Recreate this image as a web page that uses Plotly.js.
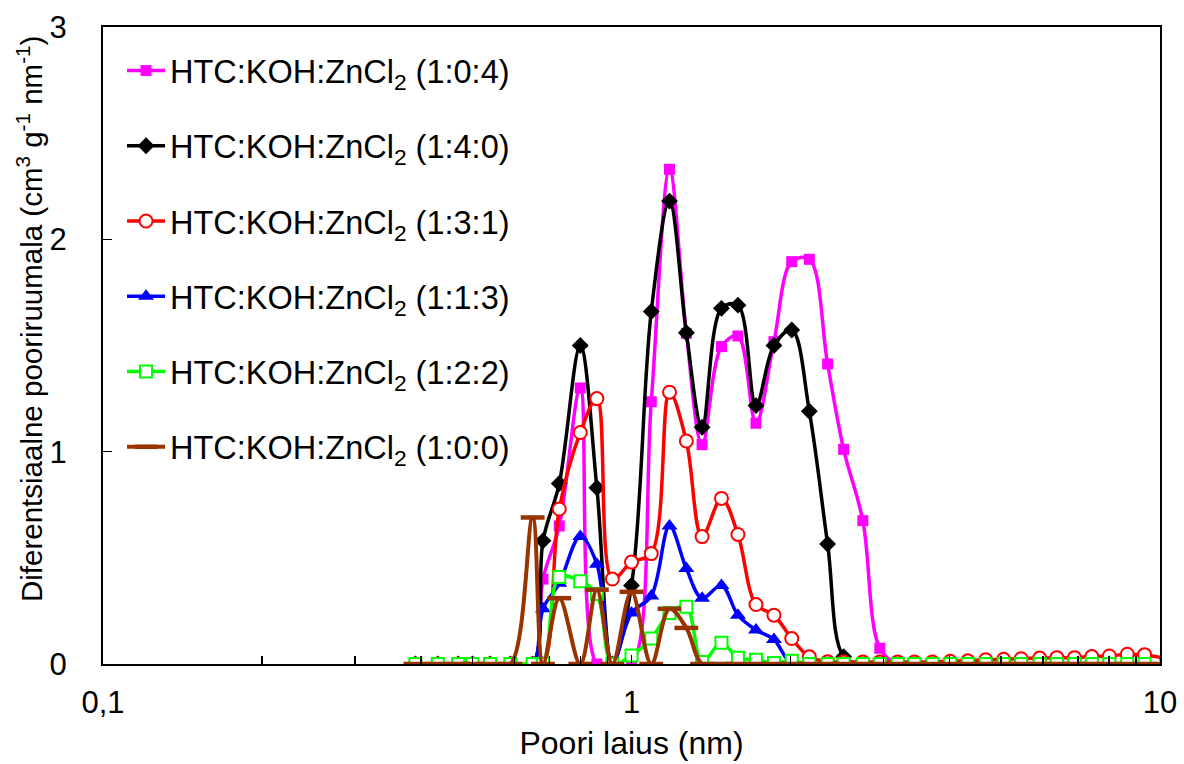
<!DOCTYPE html>
<html>
<head>
<meta charset="utf-8">
<script src="https://cdn.plot.ly/plotly-3.0.1.min.js"></script>
<style>html,body{margin:0;padding:0;background:#fff;}#chart{width:1184px;height:764px;}</style>
</head>
<body>
<div id="chart"></div>
<script>
// Pore width grid (nm)
const poreWidth = [0.39,0.43,0.47,0.50,0.54,0.59,0.65,0.68,0.73,0.80,0.86,0.92,1.00,1.09,1.18,1.27,1.36,1.48,1.59,1.72,1.86,2.01,2.17,2.35,2.52,2.74,2.95,3.19,3.43,3.71,4.01,4.33,4.68,5.06,5.46,5.92,6.38,6.89,7.43,8.02,8.67,9.35,10.3];

const seriesNames = [
  "HTC:KOH:ZnCl<sub>2</sub> (1:0:4)",
  "HTC:KOH:ZnCl<sub>2</sub> (1:4:0)",
  "HTC:KOH:ZnCl<sub>2</sub> (1:3:1)",
  "HTC:KOH:ZnCl<sub>2</sub> (1:1:3)",
  "HTC:KOH:ZnCl<sub>2</sub> (1:2:2)",
  "HTC:KOH:ZnCl<sub>2</sub> (1:0:0)"
];

const s104 = [0,0,0,0,0,0,0,0.40,0.65,1.30,0,0,0,1.235,2.33,1.557,1.033,1.495,1.545,1.134,1.518,1.895,1.906,1.413,1.011,0.675,0.074,0,0,0,0,0,0,0,0,0,0,0,0,0,0,0];
const s140 = [0,0,0,0,0,0,0,0.58,0.85,1.50,0.83,0,0.37,1.66,2.18,1.56,1.115,1.675,1.69,1.217,1.50,1.573,1.19,0.565,0.034,0,0,0,0,0,0,0,0,0,0,0,0,0,0,0,0,0];
const s131 = [0,0,0,0,0,0,0,0,0.73,1.09,1.25,0.40,0.48,0.52,1.28,1.05,0.60,0.78,0.61,0.28,0.23,0.12,0.034,0.011,0.01,0.01,0.01,0.01,0.01,0.01,0.013,0.015,0.02,0.022,0.025,0.028,0.03,0.03,0.035,0.038,0.046,0.044,0.025];
const s113 = [0,0,0,0,0,0,0,0.26,0.38,0.60,0.47,0,0.24,0.32,0.65,0.45,0.31,0.37,0.23,0.16,0.115,0,0,0,0,0,0,0,0,0,0,0,0,0,0,0,0,0,0,0,0,0];
const s122 = [0,0,0,0,0,0,0,0,0.41,0.39,0.33,0,0.04,0.12,0.24,0.27,0.01,0.10,0.03,0.02,0.005,0.015,0,0,0,0,0,0,0,0,0,0,0,0,0,0,0,0,0,0,0,0];
const s100 = [0,0,0,0,0,0,0.69,0,0.31,0,0.35,0,0.34,0,0.26,0.17,0,0,0,0,0,0,0,0,0,0,0,0,0,0,0,0,0,0,0,0,0,0,0,0,0,0,0];

const xTickVals = [0.1, 1, 10];
const xTickText = ["0,1", "1", "10"];
const xMinorVals = [0.2,0.3,0.4,0.5,0.6,0.7,0.8,0.9,2,3,4,5,6,7,8,9];
const yTickVals = [0, 1, 2, 3];
const xTitle = 'Poori laius (nm)';
const yTitle = 'Diferentsiaalne pooriruumala (cm<sup>3</sup> g<sup>-1</sup> nm<sup>-1</sup>)';

function tr(y, name, i, color, marker, lw) {
  return {
    x: poreWidth.slice(0, y.length), y: y, name: name,
    type: 'scatter', mode: 'lines+markers',
    line: {color: color, width: lw || 3.5, shape: 'spline', smoothing: 1},
    marker: marker, legendgroup: 'g' + i
  };
}

const data = [
  tr(s104, seriesNames[0], 0, '#FF00FF', {symbol: 'square', size: 11, color: '#FF00FF'}),
  tr(s140, seriesNames[1], 1, '#000000', {symbol: 'diamond', size: 13, color: '#000000'}),
  tr(s131, seriesNames[2], 2, '#FF0000', {symbol: 'circle', size: 13, color: '#FFFFFF', line: {color: '#FF0000', width: 2}}),
  tr(s113, seriesNames[3], 3, '#0000FF', {symbol: 'triangle-up', size: 14, color: '#0000FF'}),
  tr(s122, seriesNames[4], 4, '#00FF00', {symbol: 'square', size: 12, color: '#FFFFFF', line: {color: '#00FF00', width: 2}}),
  tr(s100, seriesNames[5], 5, '#993300', {symbol: 'line-ew', size: 17, color: '#993300', line: {color: '#993300', width: 4.5}}, 4)
];

const font = 'Liberation Sans, Arial, sans-serif';
const layout = {
  width: 1184, height: 764,
  margin: {l: 103, r: 24, t: 27, b: 100},
  paper_bgcolor: '#fff', plot_bgcolor: '#fff',
  font: {family: font, color: '#000', size: 30},
  showlegend: true,
  legend: {
    x: 0.018, y: 0.975, xanchor: 'left', yanchor: 'top',
    font: {family: font, size: 32.5, color: '#000'},
    bgcolor: 'rgba(0,0,0,0)', tracegroupgap: 30, itemwidth: 38
  },
  xaxis: {
    type: 'log', range: [-1, 1],
    tickmode: 'array', tickvals: xTickVals, ticktext: xTickText,
    ticks: 'inside', ticklen: 9, tickwidth: 1.5, tickcolor: '#000',
    minor: {tickmode: 'array', tickvals: xMinorVals, ticks: 'inside', ticklen: 8, tickwidth: 1.5, tickcolor: '#000', showgrid: false},
    showline: true, linecolor: '#000', linewidth: 2, mirror: true,
    showgrid: false, zeroline: false,
    tickfont: {family: font, size: 31, color: '#000'},
    ticklabelstandoff: 10,
    title: {text: xTitle, font: {family: font, size: 32, color: '#000'}, standoff: 12}
  },
  yaxis: {
    range: [0, 3],
    tickmode: 'array', tickvals: yTickVals,
    ticks: 'inside', ticklen: 9, tickwidth: 1.5, tickcolor: '#000',
    showline: true, linecolor: '#000', linewidth: 2, mirror: true,
    showgrid: false, zeroline: false,
    tickfont: {family: font, size: 31, color: '#000'},
    ticklabelstandoff: 28,
    title: {text: ''}
  },
  annotations: [{
    text: yTitle, textangle: -90, showarrow: false,
    xref: 'paper', yref: 'paper', x: 0, y: 0.5416,
    xanchor: 'center', yanchor: 'middle', xshift: -74,
    font: {family: font, size: 29.5, color: '#000'}
  }]
};

Plotly.newPlot('chart', data, layout, {displayModeBar: false, staticPlot: true});
</script>
</body>
</html>
